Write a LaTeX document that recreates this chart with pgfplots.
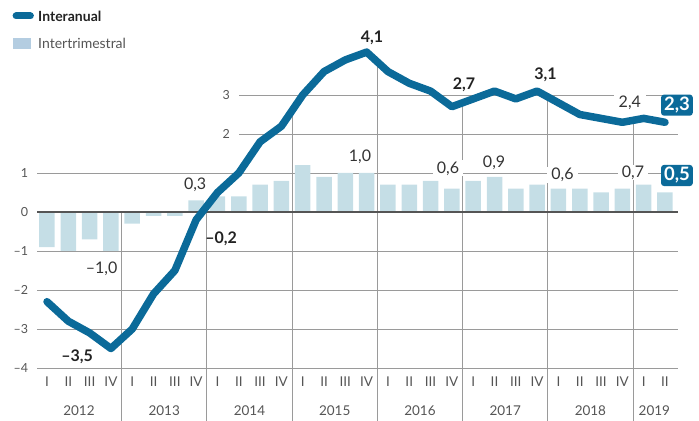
\documentclass[border=0pt]{standalone}
\usepackage{fontspec}
\setmainfont{Lato}
\usepackage{pgfplots}
\usepackage{pgfplotstable}
\pgfplotsset{compat=1.18}

\definecolor{lineblue}{HTML}{0B6A99}
\definecolor{barblue}{HTML}{C5DEE6}
\definecolor{legblue}{HTML}{B4CDE1}
\definecolor{gridc}{HTML}{9A9A9A}
\definecolor{zeroc}{HTML}{555555}
\definecolor{txt}{HTML}{333333}
\definecolor{txtb}{HTML}{222222}
\definecolor{tickc}{HTML}{555555}

\newcommand\fnum{\fontsize{16bp}{16bp}\selectfont}
\newcommand\fcaja{\bfseries\fontsize{18.5bp}{18.5bp}\selectfont}
\newcommand\ftick{\fontsize{12.5bp}{12.5bp}\selectfont}
\newcommand\fcat{\fontsize{13.5bp}{13.5bp}\selectfont}
\newcommand\fleg{\fontsize{14bp}{14bp}\selectfont}

% k = trimestre desde 2012 I; ia = interanual, it = intertrimestral
\pgfplotstableread{
k   ia    it
0  -2.3  -0.9
1  -2.8  -1.0
2  -3.1  -0.7
3  -3.5  -1.0
4  -3.0  -0.3
5  -2.1  -0.1
6  -1.5  -0.1
7  -0.2   0.3
8   0.5   0.4
9   1.0   0.4
10  1.8   0.7
11  2.2   0.8
12  3.0   1.2
13  3.6   0.9
14  3.9   1.0
15  4.1   1.0
16  3.6   0.7
17  3.3   0.7
18  3.1   0.8
19  2.7   0.6
20  2.9   0.8
21  3.1   0.9
22  2.9   0.6
23  3.1   0.7
24  2.8   0.6
25  2.5   0.6
26  2.4   0.5
27  2.3   0.6
28  2.4   0.7
29  2.3   0.5
}\datos

\begin{document}
\begin{tikzpicture}
\useasboundingbox (0,0) rectangle (699bp,421bp);
\begin{axis}[
    at={(0,0)}, anchor=south west,
    width=699bp, height=421bp, scale only axis,
    xmin=-2.2055, xmax=30.596,
    ymin=-5.359, ymax=5.436,
    axis lines=none, ticks=none,
    clip=false,
]
% rejilla
\pgfplotsinvokeforeach{-4,...,1}{
  \draw[gridc, line width=0.9bp] (-0.469,#1) -- (29.61,#1);
}
\node[anchor=east, font=\ftick, text=tickc] at (-0.72,1) {1};
\node[anchor=east, font=\ftick, text=tickc] at (-0.72,0) {0};
\node[anchor=east, font=\ftick, text=tickc] at (-0.72,-1) {–1};
\node[anchor=east, font=\ftick, text=tickc] at (-0.72,-2) {–2};
\node[anchor=east, font=\ftick, text=tickc] at (-0.72,-3) {–3};
\node[anchor=east, font=\ftick, text=tickc] at (-0.72,-4) {–4};
\draw[gridc, line width=0.9bp] (9.03,2) -- (29.61,2);
\draw[gridc, line width=0.9bp] (9.03,3) -- (29.61,3);
\node[anchor=east, font=\ftick, text=tickc] at (8.75,2) {2};
\node[anchor=east, font=\ftick, text=tickc] at (8.75,3) {3};

% separadores de año
\draw[gridc, line width=0.9bp] (3.5,-5.359) -- (3.5,0);
\draw[gridc, line width=0.9bp] (7.5,-5.359) -- (7.5,0.15);
\draw[gridc, line width=0.9bp] (11.5,-5.359) -- (11.5,2.6);
\draw[gridc, line width=0.9bp] (15.5,-5.359) -- (15.5,3.85);
\draw[gridc, line width=0.9bp] (19.5,-5.359) -- (19.5,2.8);
\draw[gridc, line width=0.9bp] (23.5,-5.359) -- (23.5,2.95);
\draw[gridc, line width=0.9bp] (27.5,-5.359) -- (27.5,2.35);

\addplot[ybar, bar width=15.5bp, fill=barblue, draw=none] table[x=k, y=it] {\datos};

\draw[zeroc, line width=1.8bp] (-0.469,0) -- (29.61,0);

\addplot[lineblue, line width=7.5bp, line join=round, line cap=round, mark=none] table[x=k, y=ia] {\datos};

% trimestres y años
\pgfplotsinvokeforeach{0,4,...,24}{
  \node[font=\fcat, text=tickc] at (#1,-4.35) {I};
  \node[font=\fcat, text=tickc] at (#1+1,-4.35) {II};
  \node[font=\fcat, text=tickc] at (#1+2,-4.35) {III};
  \node[font=\fcat, text=tickc] at (#1+3,-4.35) {IV};
}
\node[font=\fcat, text=tickc] at (28,-4.35) {I};
\node[font=\fcat, text=tickc] at (29,-4.35) {II};
\node[font=\fcat, text=tickc] at (1.5,-5.095) {2012};
\node[font=\fcat, text=tickc] at (5.5,-5.095) {2013};
\node[font=\fcat, text=tickc] at (9.5,-5.095) {2014};
\node[font=\fcat, text=tickc] at (13.5,-5.095) {2015};
\node[font=\fcat, text=tickc] at (17.5,-5.095) {2016};
\node[font=\fcat, text=tickc] at (21.5,-5.095) {2017};
\node[font=\fcat, text=tickc] at (25.5,-5.095) {2018};
\node[font=\fcat, text=tickc] at (28.5,-5.095) {2019};

% etiquetas de valores
\node[font=\fnum\bfseries, text=txtb] at (15.25,4.46) {4,1};
\node[font=\fnum\bfseries, text=txtb] at (19.57,3.26) {2,7};
\node[font=\fnum\bfseries, text=txtb] at (23.39,3.51) {3,1};
\node[font=\fnum\bfseries, text=txtb] at (1.41,-3.71) {–3,5};
\node[font=\fnum\bfseries, text=txtb] at (8.17,-0.675) {–0,2};
\node[font=\fnum, text=txt] at (2.56,-1.46) {–1,0};
\node[font=\fnum, text=txt] at (6.95,0.71) {0,3};
\node[font=\fnum, text=txt] at (14.69,1.42) {1,0};
\node[font=\fnum, text=txt, fill=white, inner xsep=4bp, inner ysep=1bp] at (18.82,1.12) {0,6};
\node[font=\fnum, text=txt] at (20.98,1.27) {0,9};
\node[font=\fnum, text=txt, fill=white, inner xsep=4bp, inner ysep=1bp] at (24.19,0.95) {0,6};
\node[font=\fnum, text=txt, fill=white, inner xsep=4bp, inner ysep=1bp] at (27.5,1.01) {0,7};
\node[font=\fnum, text=txt, fill=white, inner xsep=5bp, inner ysep=1bp] at (27.35,2.81) {2,4};
\node[font=\fcaja, text=white, fill=lineblue, rounded corners=3bp, inner xsep=3bp, inner ysep=2.5bp] at (29.56,2.74) {2,3};
\node[font=\fcaja, text=white, fill=lineblue, rounded corners=3bp, inner xsep=3bp, inner ysep=2.5bp] at (29.56,0.936) {0,5};

% leyenda
\draw[lineblue, line width=7bp, line cap=round] (-1.45,5.026) -- (-0.78,5.026);
\node[anchor=west, font=\fleg\bfseries, text=txtb, inner xsep=0pt] at (-0.42,5.026) {Interanual};
\fill[legblue] (-1.595,4.18) rectangle (-0.751,4.46);
\node[anchor=west, font=\fleg, text=tickc, inner xsep=0pt] at (-0.42,4.33) {Intertrimestral};
\end{axis}
\end{tikzpicture}
\end{document}
